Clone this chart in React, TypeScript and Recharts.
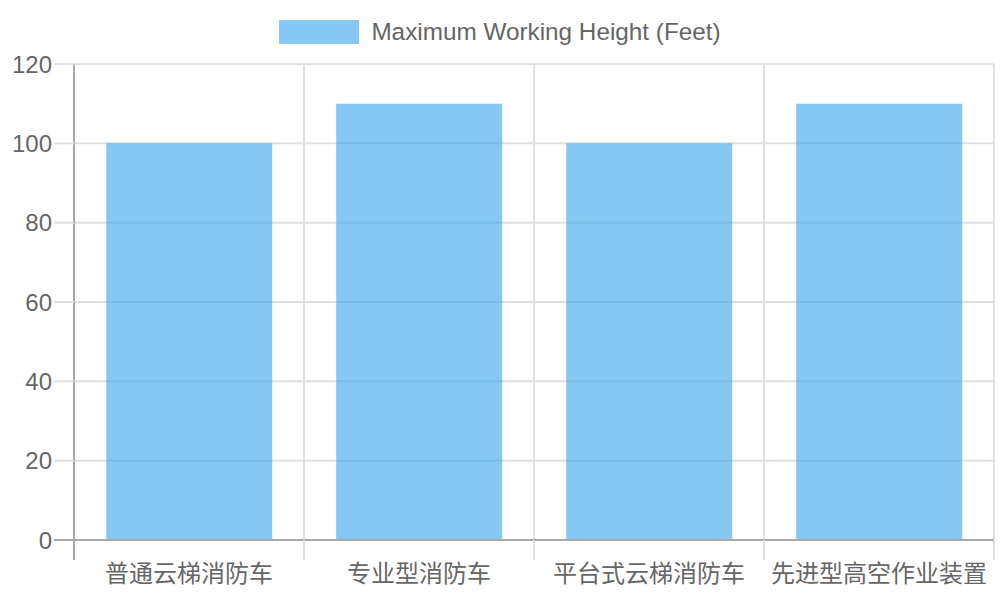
import { BarChart, Bar, XAxis, YAxis, CartesianGrid, Legend } from "recharts";

const categories = ["普通云梯消防车", "专业型消防车", "平台式云梯消防车", "先进型高空作业装置"];
const heights = [100, 110, 100, 110];
const yTicks = [0, 20, 40, 60, 80, 100, 120];
const seriesName = "Maximum Working Height (Feet)";

const data = categories.map((name, i) => ({ name, height: heights[i] }));

const W = 1000;
const H = 600;
const LEFT = 74;
const RIGHT = 6;
const PLOT_W = W - LEFT - RIGHT;
const BAND = PLOT_W / categories.length;

const FONT = "'Liberation Sans', 'Noto Sans CJK SC', sans-serif";
const TEXT = "#666";
const GRID = "#e0e0e0";
const AXIS = "#a8a8a8";
const BAR_FILL = "rgba(54,162,235,0.6)";

// tick marks sit on the band edges, like the vertical grid lines
function XTick({ x, y, payload, index }: any) {
  const left = x - BAND / 2;
  const last = index === categories.length - 1;
  return (
    <g>
      <line x1={left} x2={left} y1={y} y2={y + 20} stroke={index === 0 ? AXIS : GRID} strokeWidth={2} />
      {last && <line x1={x + BAND / 2} x2={x + BAND / 2} y1={y} y2={y + 20} stroke={GRID} strokeWidth={2} />}
      <text x={x} y={y + 33} textAnchor="middle" dominantBaseline="central" fill={TEXT} fontSize={24} fontFamily={FONT}>
        {payload.value}
      </text>
    </g>
  );
}

function YTick({ x, y, payload }: any) {
  return (
    <g>
      <line x1={x - 20} x2={x} y1={y} y2={y} stroke={payload.value === 0 ? AXIS : GRID} strokeWidth={2} />
      <text x={x - 22} y={y} textAnchor="end" dominantBaseline="central" fill={TEXT} fontSize={24} fontFamily={FONT}>
        {payload.value}
      </text>
    </g>
  );
}

function LegendBox() {
  return (
    <div style={{ height: 64, display: "flex", justifyContent: "center", alignItems: "flex-start", paddingTop: 20, boxSizing: "border-box" }}>
      <span style={{ width: 80, height: 24, background: BAR_FILL, display: "inline-block" }} />
      <span style={{ marginLeft: 12, fontSize: 24.3, lineHeight: "24px", color: TEXT, fontFamily: FONT }}>{seriesName}</span>
    </div>
  );
}

export default function App() {
  return (
    <div style={{ position: "absolute", left: 0, top: 0 }}>
      <BarChart width={W} height={H} data={data} margin={{ top: 0, right: RIGHT, bottom: 0, left: 0 }} barCategoryGap="14%">
        <Legend verticalAlign="top" content={<LegendBox />} wrapperStyle={{ left: 0, top: 0, width: W }} />
        <CartesianGrid
          stroke={GRID}
          strokeWidth={2}
          verticalCoordinatesGenerator={({ offset }: any) =>
            categories.map((_, i) => offset.left + (i * offset.width) / categories.length).concat(offset.left + offset.width)
          }
        />
        <XAxis dataKey="name" height={60} tickSize={0} tickMargin={0} tickLine={false} stroke={AXIS} strokeWidth={2} tick={<XTick />} interval={0} />
        <YAxis width={LEFT} domain={[0, 120]} ticks={yTicks} tickSize={0} tickMargin={0} tickLine={false} stroke={AXIS} strokeWidth={2} tick={<YTick />} />
        <Bar dataKey="height" name={seriesName} fill={BAR_FILL} isAnimationActive={false} />
      </BarChart>
    </div>
  );
}
